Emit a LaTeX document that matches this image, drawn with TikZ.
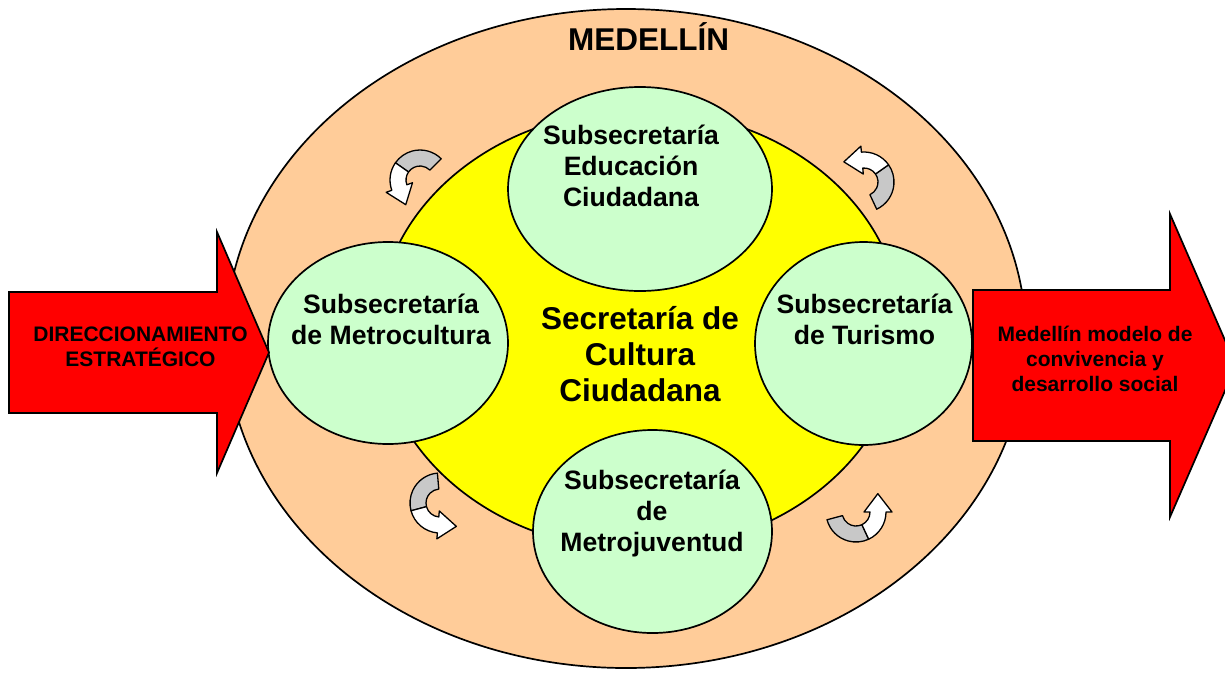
\documentclass[tikz,border=0pt]{standalone}
\usepackage{fontspec}
\setmainfont{Liberation Sans}
\usetikzlibrary{shapes}

\definecolor{durazno}{HTML}{FFCC99}
\definecolor{amarillo}{HTML}{FFFF00}
\definecolor{verde}{HTML}{CCFFCC}
\definecolor{rojo}{HTML}{FF0000}
\definecolor{gris}{HTML}{C8C8C8}

% curved arrow: centre x, centre y, tail angle, joint angle, head angle
\newcommand{\vuelta}[5]{%
  \begin{scope}[shift={(#1,#2)}]
    \draw [cinta,fill=gris] (#3:30) arc [start angle=#3,end angle=#4,radius=30]
      -- (#4:14) arc [start angle=#4,end angle=#3,radius=14] -- cycle;
    \draw [cinta,fill=white] (#4:30) arc [start angle=#4,end angle=#5,radius=30]
      -- (#5:36) -- ({#5-40}:28.5) -- (#5:8) -- (#5:14)
      arc [start angle=#5,end angle=#4,radius=14] -- cycle;
  \end{scope}}

\begin{document}
\begin{tikzpicture}[x=1pt,y=-1pt,
    anillo/.style={ellipse,draw,line width=1.7pt,inner sep=0pt},
    sub/.style={anillo,fill=verde},
    subtexto/.style={align=center,font=\fontsize{26.6}{31}\selectfont\bfseries},
    flecha/.style={draw,fill=rojo,line width=1.7pt,line join=miter},
    flechatexto/.style={align=center,font=\fontsize{21}{25}\selectfont\bfseries},
    cinta/.style={draw,line width=1.3pt,line join=round}]
    \useasboundingbox (0,0) rectangle (1225,675);
    \clip (0,0) rectangle (1225,675);
    \fill [white] (0,0) rectangle (1225,675);

    % Draw the city and the secretaria
    \node [anillo,fill=durazno,minimum width=800pt,minimum height=659pt] (medellin) at (626,338.5) {};
    \node [anillo,fill=amarillo,minimum width=524pt,minimum height=440pt] (cultura) at (640,330) {};
    \node [font=\fontsize{31.5}{36}\selectfont\bfseries,anchor=base] (titulo) at (648.5,50) {MEDELLÍN};

    % Draw the subsecretarias
    \node [sub,minimum width=264pt,minimum height=204pt] (educacion) at (640,189) {};
    \node [sub,minimum width=240pt,minimum height=202pt] (metrocultura) at (388,343) {};
    \node [sub,minimum width=217pt,minimum height=203pt] (turismo) at (863.5,343.5) {};
    \node [sub,minimum width=239pt,minimum height=203pt] (metrojuventud) at (652.5,531.5) {};

    \node [subtexto] (educacion-t) at (631,166) {Subsecretaría\\Educación\\Ciudadana};
    \node [subtexto] (metrocultura-t) at (391,319.5) {Subsecretaría\\de Metrocultura};
    \node [subtexto] (turismo-t) at (864.5,319.5) {Subsecretaría\\de Turismo};
    \node [subtexto] (metrojuventud-t) at (652,513) {Subsecretaría\\de\\Metrojuventud};
    \node [align=center,font=\fontsize{31.5}{36}\selectfont\bfseries] (cultura-t) at (640,353.7) {Secretaría de\\Cultura\\Ciudadana};

    % Draw the turning arrows
    \vuelta{420}{180}{-45}{-145}{-200}
    \vuelta{864}{182}{65}{-35}{-95}
    \vuelta{440}{503}{-95}{-195}{-265}
    \vuelta{856}{512}{165}{65}{0}

    % Draw the input and output arrows
    \draw [flecha] (9,292) -- (217,292) -- (217,232) -- (269,352.5) -- (217,473) -- (217,413) -- (9,413) -- cycle;
    \node [flechatexto] (direccion) at (140.5,346.7) {DIRECCIONAMIENTO\\ESTRATÉGICO};
    \draw [flecha] (973,290) -- (1170,290) -- (1170,214) -- (1236,365.5) -- (1170,517) -- (1170,441) -- (973,441) -- cycle;
    \node [flechatexto] (resultado) at (1095,358.8) {Medellín modelo de\\convivencia y\\desarrollo social};

\end{tikzpicture}
\end{document}
